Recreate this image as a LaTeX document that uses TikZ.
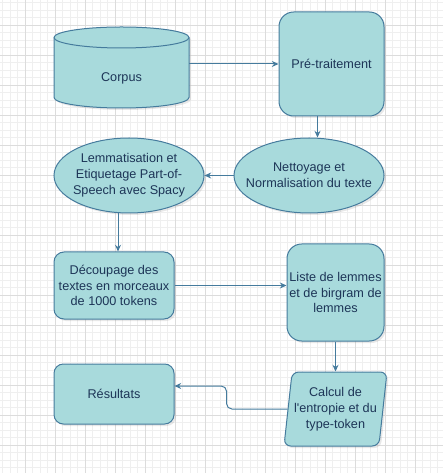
\documentclass[tikz,border=0pt]{standalone}
\usepackage{fontspec}
\setmainfont{Liberation Sans}[Ligatures=TeXOff]
\usetikzlibrary{arrows.meta,shapes.geometric,shadows}
\definecolor{boxfill}{HTML}{A8DADC}
\definecolor{boxline}{HTML}{457B9D}
\definecolor{boxtext}{HTML}{1D3557}
\definecolor{gridminor}{HTML}{EFEFEF}
\definecolor{gridmajor}{HTML}{DCDCDC}
\tikzstyle{block}=[draw=boxline, fill=boxfill, text=boxtext, line width=0.75pt, align=center,
  font=\fontsize{9.5}{11.85}\selectfont,
  drop shadow={shadow xshift=1.5pt, shadow yshift=-1.5pt, opacity=0.18}]
\tikzstyle{oval}=[block, ellipse, inner sep=-8pt, minimum width=112.5pt, minimum height=56.25pt]
\tikzstyle{link}=[draw=boxline, line width=0.75pt, rounded corners=4pt, -{Stealth[length=5pt,width=4.5pt]}]
\tikzset{roundbox/.style={block, rectangle, inner sep=1pt, rounded corners=#1}}

\begin{document}
\begin{tikzpicture}[x=0.75pt, y=-0.75pt]
  \useasboundingbox (0,0) rectangle (443,473);
  \fill[white] (0,0) rectangle (443,473);

  % grid
  \foreach \g in {0,...,58}
    \draw[gridminor, line width=0.6pt] ({2.5+7.5*\g},0) -- ({2.5+7.5*\g},473);
  \foreach \g in {0,...,62}
    \draw[gridminor, line width=0.6pt] (0,{2.5+7.5*\g}) -- (443,{2.5+7.5*\g});
  \foreach \g in {0,...,13}
    \draw[gridmajor, line width=0.6pt] ({25+30*\g},0) -- ({25+30*\g},473);
  \foreach \g in {0,...,14}
    \draw[gridmajor, line width=0.6pt] (0,{25+30*\g}) -- (443,{25+30*\g});

  % corpus cylinder
  \path[block] (54,37.5) -- (54,97.5)
    arc[start angle=180, end angle=0, x radius=67.5, y radius=10.5]
    -- (189,37.5)
    arc[start angle=0, end angle=-180, x radius=67.5, y radius=10.5] -- cycle;
  \draw[boxline, line width=0.75pt] (54,37.5)
    arc[start angle=180, end angle=0, x radius=67.5, y radius=10.5];
  \node[text=boxtext, font=\fontsize{9.5}{11.85}\selectfont,
    minimum width=101.25pt, minimum height=45pt] (corpus) at (121.5,78) {Corpus};

  % steps
  \node[roundbox=11pt, minimum width=78.75pt, minimum height=78pt] (pre) at (331.5,64) {Pré-traitement};
  \node[oval] (nett) at (309,175.5) {Nettoyage et\\Normalisation du texte};
  \node[oval] (lemm) at (129,175.5) {Lemmatisation et\\Etiquetage Part-of-\\Speech avec Spacy};
  \node[roundbox=7.5pt, minimum width=90pt, minimum height=50.25pt] (dec) at (114,285.5) {Découpage des\\textes en morceaux\\de 1000 tokens};
  \node[roundbox=11pt, minimum width=72.75pt, minimum height=72.75pt] (liste) at (335.5,292.5) {Liste de lemmes\\et de birgram de\\lemmes};
  \node[block, trapezium, trapezium left angle=80, trapezium right angle=100,
    trapezium stretches body, inner xsep=-4pt, inner ysep=1pt, rounded corners=5pt,
    minimum width=77.25pt, minimum height=55.5pt] (calc) at (335.5,409) {Calcul de\\l'entropie et du\\type-token};
  \node[roundbox=7pt, minimum width=90pt, minimum height=45pt] (res) at (114,394) {Résultats};

  % connectors
  \draw[link] (pre.west -| corpus.east) -- (pre.west);
  \draw[link] ([xshift=-10.5pt]pre.south) coordinate (pd) -- (pd |- nett.north);
  \draw[link] (nett.west) -- (lemm.east);
  \draw[link] ([xshift=-8.25pt]lemm.south) -- ([xshift=3pt]dec.north);
  \draw[link] (dec.east) -- (dec.east -| liste.west);
  \draw[link] (liste.south) -- (liste.south |- calc.north);
  \draw[link] (calc.west) -- ++(-61,0) |- ([yshift=6pt]res.east);
\end{tikzpicture}
\end{document}
